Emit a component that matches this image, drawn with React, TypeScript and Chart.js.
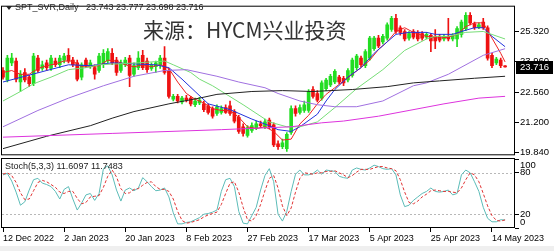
import React, { useEffect, useRef } from 'react';
import { Chart, registerables } from 'chart.js';

Chart.register(...registerables);

const FONT = "'Liberation Sans', Arial, sans-serif";
const CJK = "'Noto Sans CJK SC', sans-serif";

const symbolName = 'SPT_SVR,Daily';
const watermark = '来源：HYCM兴业投资';
const stochName = 'Stoch(5,3,3)';

const xTickBars = [0, 14, 28, 42, 56, 70, 84, 98, 112];
const xTickLabels = ['12 Dec 2022', '2 Jan 2023', '20 Jan 2023', '8 Feb 2023', '27 Feb 2023', '17 Mar 2023', '5 Apr 2023', '25 Apr 2023', '14 May 2023'];
const priceTicks = [19.84, 21.2, 22.56, 23.96, 25.32];
const stochTicks = [0, 20, 80, 100];
const stochLevels = [20, 80];

const opens = [
  23.55, 23.12, 23.90, 23.98, 23.03, 23.46, 23.25, 22.95, 24.11, 23.64,
  23.90, 23.64, 23.98, 23.81, 24.02, 24.24, 24.02, 23.90, 23.25, 24.02,
  23.72, 23.68, 23.55, 23.81, 23.98, 24.33, 24.02, 23.55, 23.81, 24.11,
  23.38, 23.68, 24.24, 23.98, 23.64, 23.72, 23.81, 24.11, 23.55, 22.25,
  22.38, 22.13, 22.30, 22.30, 22.00, 22.08, 22.04, 21.95, 21.82, 21.61,
  21.65, 21.87, 21.95, 21.69, 21.43, 21.00, 20.61, 20.83, 20.96, 21.13,
  21.00, 21.30, 21.09, 20.23, 20.10, 20.01, 20.74, 21.82, 21.65, 21.74,
  21.74, 22.69, 22.51, 22.30, 22.73, 22.90, 23.03, 23.25, 23.20, 23.12,
  23.33, 23.68, 24.11, 23.77, 24.11, 24.54, 25.02, 24.85, 25.02, 25.41,
  25.92, 25.49, 25.32, 25.02, 25.32, 25.28, 25.23, 25.06, 25.15, 25.10,
  25.10, 24.98, 25.10, 24.98, 24.98, 25.19, 25.45, 26.05, 25.67, 25.49,
  25.75, 25.49, 24.24, 23.90, 24.02, 23.743,
];
const highs = [
  23.68, 24.24, 24.33, 24.11, 23.55, 23.64, 23.33, 24.33, 24.24, 23.98,
  24.02, 24.24, 24.11, 24.24, 24.33, 24.54, 24.15, 24.02, 23.90, 24.11,
  24.02, 23.81, 24.33, 24.50, 24.54, 24.54, 24.15, 24.02, 24.15, 24.24,
  23.90, 24.41, 24.46, 24.11, 23.90, 23.98, 24.24, 24.63, 23.64, 22.47,
  22.47, 22.38, 22.43, 22.38, 22.30, 22.34, 22.17, 22.04, 21.91, 22.00,
  21.95, 22.00, 22.17, 21.78, 21.52, 21.13, 21.05, 21.18, 21.26, 21.26,
  21.35, 21.39, 21.18, 20.36, 20.44, 20.74, 21.95, 21.95, 22.00, 22.17,
  22.69, 22.82, 22.64, 23.08, 23.20, 23.38, 23.59, 23.33, 23.29, 23.64,
  24.11, 24.28, 24.20, 24.50, 25.10, 25.10, 25.15, 25.19, 25.71, 26.01,
  26.10, 25.58, 25.41, 25.32, 25.41, 25.36, 25.32, 25.28, 25.23, 25.41,
  25.19, 25.19, 25.92, 25.23, 25.54, 25.84, 26.18, 26.18, 25.75, 25.71,
  25.92, 25.58, 24.33, 24.15, 24.11, 23.777,
];
const lows = [
  23.16, 23.03, 23.77, 23.03, 22.60, 23.03, 22.82, 22.86, 23.46, 23.55,
  23.55, 23.55, 23.72, 23.68, 23.90, 23.90, 23.72, 23.08, 23.12, 23.68,
  23.64, 23.16, 23.46, 23.68, 23.90, 23.81, 23.33, 23.46, 23.72, 22.82,
  23.29, 23.59, 23.59, 23.46, 23.55, 23.46, 23.64, 23.38, 22.30, 22.17,
  22.08, 22.04, 22.13, 21.95, 21.91, 22.00, 21.69, 21.57, 21.39, 21.52,
  21.57, 21.61, 21.52, 21.18, 20.70, 20.57, 20.53, 20.74, 20.87, 20.96,
  20.92, 20.92, 20.10, 19.97, 20.01, 19.88, 20.66, 21.48, 21.57, 21.65,
  21.65, 22.30, 22.13, 22.21, 22.64, 22.82, 22.95, 22.95, 22.86, 23.03,
  23.25, 23.59, 23.72, 23.68, 24.02, 24.46, 24.59, 24.76, 24.93, 25.32,
  25.23, 25.15, 24.89, 24.93, 24.98, 24.89, 24.93, 24.98, 24.41, 24.54,
  24.85, 24.89, 24.89, 24.89, 24.63, 25.06, 25.36, 25.62, 25.41, 25.45,
  25.41, 24.02, 23.68, 23.81, 23.68, 23.698,
];
const closes = [
  23.25, 24.11, 24.11, 23.16, 23.38, 23.12, 22.95, 24.20, 23.55, 23.81,
  23.68, 24.11, 23.81, 24.11, 24.20, 23.98, 23.81, 23.16, 23.81, 23.77,
  23.90, 23.38, 24.20, 24.33, 24.41, 23.90, 23.46, 23.90, 24.02, 23.33,
  23.77, 24.11, 23.68, 23.59, 23.81, 23.90, 24.11, 23.46, 22.38, 22.38,
  22.17, 22.30, 22.21, 22.04, 22.17, 22.21, 21.78, 21.65, 21.48, 21.91,
  21.82, 21.65, 21.61, 21.26, 20.79, 20.70, 20.96, 21.05, 21.13, 21.05,
  21.22, 21.00, 20.18, 20.10, 20.27, 20.66, 21.82, 21.61, 21.87, 22.00,
  22.60, 22.38, 22.21, 22.99, 23.12, 23.29, 23.51, 23.03, 22.99, 23.55,
  24.02, 24.20, 23.81, 24.41, 25.02, 25.02, 24.67, 25.10, 25.62, 25.92,
  25.32, 25.28, 24.98, 25.23, 25.06, 24.98, 25.02, 25.19, 24.89, 24.89,
  24.93, 25.10, 24.98, 25.10, 25.45, 25.75, 26.05, 25.71, 25.49, 25.62,
  25.49, 24.11, 23.77, 24.07, 23.77, 23.716,
];

const maRedIdx = [0, 2, 4, 6, 8, 10, 12, 14, 16, 18, 20, 22, 24, 26, 28, 30, 32, 34, 36, 38, 40, 42, 44, 46, 48, 50, 52, 54, 56, 58, 60, 62, 64, 66, 68, 70, 72, 74, 76, 78, 80, 82, 84, 86, 88, 90, 92, 94, 96, 98, 100, 102, 104, 106, 108, 110, 112, 114, 115];
const maRed = [23.46, 23.55, 23.38, 23.38, 23.64, 23.77, 23.85, 23.98, 23.98, 23.72, 23.72, 23.77, 24.02, 23.98, 23.81, 23.72, 23.81, 23.72, 23.81, 23.64, 23.03, 22.51, 22.25, 22.08, 21.82, 21.74, 21.74, 21.43, 21.00, 20.92, 21.00, 20.79, 20.40, 20.44, 21.13, 21.52, 22.04, 22.47, 22.77, 23.08, 23.38, 23.68, 24.02, 24.50, 24.85, 25.32, 25.49, 25.28, 25.15, 25.06, 25.02, 25.06, 25.19, 25.54, 25.71, 25.71, 25.02, 24.33, 23.94];
const maBlueIdx = [0, 5, 10, 15, 20, 25, 30, 35, 38, 41, 44, 47, 52, 57, 61, 63, 66, 68, 72, 74, 76, 79, 82, 85, 88, 90, 93, 97, 99, 103, 105, 108, 110, 112, 115];
const maBlue = [23.03, 23.29, 23.55, 23.81, 23.77, 23.90, 23.85, 23.81, 23.68, 23.16, 22.60, 22.04, 21.78, 21.35, 21.05, 20.87, 20.79, 21.00, 21.57, 22.17, 22.69, 23.25, 23.68, 24.33, 24.85, 25.19, 25.28, 25.28, 25.19, 25.19, 25.32, 25.49, 25.49, 25.10, 24.63];
const maGreenIdx = [0, 4, 7, 11, 15, 19, 22, 31, 37, 39, 43, 45, 48, 55, 61, 65, 68, 72, 76, 81, 87, 92, 97, 99, 102, 106, 110, 115];
const maGreen = [22.17, 22.60, 22.95, 23.25, 23.59, 23.68, 23.81, 23.90, 23.98, 23.81, 23.46, 23.16, 22.86, 22.00, 21.22, 21.00, 21.00, 21.22, 21.87, 22.73, 23.59, 24.46, 24.98, 25.10, 25.10, 25.28, 25.32, 24.98];
const maPurpleIdx = [0, 8, 15, 23, 30, 37, 42, 49, 54, 60, 63, 68, 72, 76, 81, 87, 94, 97, 102, 110, 115];
const maPurple = [21.00, 21.74, 22.30, 22.86, 23.29, 23.55, 23.59, 23.29, 23.03, 22.77, 22.51, 22.17, 22.00, 21.91, 21.91, 22.17, 22.86, 22.99, 23.38, 24.24, 24.54];
const maBlackIdx = [0, 10, 20, 25, 30, 38, 45, 49, 57, 64, 71, 80, 88, 94, 100, 108, 115];
const maBlack = [20.01, 20.57, 21.05, 21.39, 21.69, 22.04, 22.30, 22.47, 22.60, 22.64, 22.60, 22.69, 22.82, 22.99, 23.08, 23.20, 23.29];
const maMagentaIdx = [0, 25, 50, 66, 73, 78, 86, 93, 101, 109, 115];
const maMagenta = [20.53, 20.70, 20.87, 21.00, 21.18, 21.26, 21.48, 21.74, 22.04, 22.30, 22.38];

const stochMain = [
  77, 79, 68, 52, 33, 38, 55, 70, 72, 65,
  63, 60, 53, 42, 56, 60, 42, 26, 36, 48,
  50, 40, 50, 86, 90, 77, 55, 39, 55, 58,
  54, 58, 73, 67, 60, 54, 55, 58, 45, 22,
  6, 6, 8, 9, 12, 15, 20, 21, 23, 26,
  53, 70, 72, 60, 24, 7, 6, 18, 30, 55,
  76, 86, 67, 20, 10, 24, 53, 78, 84, 77,
  77, 79, 84, 78, 84, 83, 82, 75, 73, 72,
  84, 87, 85, 84, 87, 91, 89, 86, 85, 86,
  77, 48, 31, 33, 40, 45, 50, 53, 58, 53,
  52, 53, 55, 48, 50, 77, 84, 80, 67, 53,
  30, 14, 9, 9, 12, 11.6097,
];
const stochSignal = [
  78, 80, 76, 66, 51, 41, 42, 54, 66, 69,
  67, 63, 59, 52, 50, 53, 53, 43, 35, 37,
  45, 46, 47, 59, 75, 84, 74, 57, 50, 51,
  56, 57, 62, 66, 67, 60, 56, 56, 53, 42,
  24, 11, 7, 8, 10, 12, 16, 19, 21, 23,
  34, 50, 65, 67, 52, 30, 12, 10, 18, 34,
  54, 72, 76, 58, 32, 18, 29, 52, 72, 80,
  79, 78, 80, 80, 82, 82, 83, 80, 77, 73,
  76, 81, 85, 85, 85, 87, 89, 89, 87, 86,
  83, 70, 52, 37, 35, 39, 45, 49, 54, 55,
  54, 53, 53, 52, 51, 58, 70, 80, 77, 67,
  50, 32, 18, 11, 10, 11.7483,
];

const X_MIN = -0.23;
const X_MAX = 117.27;
const Y_MIN = 19.708;
const Y_MAX = 26.443;

const BULL = '#22dd22';
const BEAR = '#ee1111';

function mkLine(idx: number[], vals: number[], color: string, dash: number[] = []) {
  return {
    type: 'line' as const,
    data: idx.map((x, k) => ({ x, y: vals[k] })),
    borderColor: color,
    borderWidth: 1,
    borderDash: dash,
    pointRadius: 0,
    tension: 0,
    fill: false,
    order: 0,
  };
}

function drawFrame(chart: any) {
  const { ctx, chartArea: a } = chart;
  ctx.save();
  ctx.strokeStyle = '#000';
  ctx.lineWidth = 1;
  ctx.strokeRect(a.left - 0.5, a.top - 0.5, a.right - a.left, a.bottom - a.top);
  ctx.restore();
}

const mainPlugin = {
  id: 'mainDeco',
  beforeDatasetsDraw(chart: any) {
    const { ctx } = chart;
    ctx.save();
    ctx.fillStyle = '#333';
    ctx.font = `21px ${CJK}`;
    ctx.textBaseline = 'middle';
    ctx.textAlign = 'left';
    ctx.fillText(watermark, 143, 30);
    ctx.restore();
  },
  afterDraw(chart: any) {
    const { ctx, chartArea: a } = chart;
    drawFrame(chart);
    const last = closes.length - 1;
    ctx.save();
    ctx.fillStyle = '#222';
    ctx.beginPath();
    ctx.moveTo(6, 6);
    ctx.lineTo(12, 6);
    ctx.lineTo(9, 10);
    ctx.closePath();
    ctx.fill();
    ctx.font = `9px ${FONT}`;
    ctx.textBaseline = 'middle';
    ctx.textAlign = 'left';
    ctx.fillText(symbolName, 15, 8);
    const vals = [opens[last], highs[last], lows[last], closes[last]].map((v) => v.toFixed(3)).join(' ');
    ctx.fillText(vals, 86, 8);
    const y = chart.scales.y.getPixelForValue(closes[last]);
    ctx.fillStyle = '#000';
    ctx.fillRect(a.right + 1, Math.round(y) - 6, 37, 13);
    ctx.fillStyle = '#fff';
    ctx.font = `9.5px ${FONT}`;
    ctx.fillText(closes[last].toFixed(3), a.right + 5, Math.round(y) + 0.5);
    ctx.restore();
  },
};

const stochPlugin = {
  id: 'stochDeco',
  beforeDraw(chart: any) {
    const { ctx, width, height } = chart;
    ctx.save();
    ctx.fillStyle = '#efefef';
    ctx.fillRect(0, height - 5, width, 5);
    ctx.restore();
  },
  beforeDatasetsDraw(chart: any) {
    const { ctx, chartArea: a } = chart;
    ctx.save();
    ctx.strokeStyle = '#b8b8b8';
    ctx.lineWidth = 1;
    ctx.setLineDash([2, 2]);
    stochLevels.forEach((v) => {
      const y = Math.round(chart.scales.y.getPixelForValue(v)) + 0.5;
      ctx.beginPath();
      ctx.moveTo(a.left, y);
      ctx.lineTo(a.right, y);
      ctx.stroke();
    });
    ctx.restore();
  },
  afterDraw(chart: any) {
    const { ctx, chartArea: a } = chart;
    drawFrame(chart);
    const last = stochMain.length - 1;
    ctx.save();
    ctx.fillStyle = '#222';
    ctx.font = `9px ${FONT}`;
    ctx.textBaseline = 'middle';
    ctx.textAlign = 'left';
    ctx.fillText(`${stochName} ${stochMain[last].toFixed(4)} ${stochSignal[last].toFixed(4)}`, 5, 9);
    ctx.font = `9.5px ${FONT}`;
    ctx.fillStyle = '#000';
    stochTicks.forEach((v) => {
      let y = chart.scales.y.getPixelForValue(v);
      y = Math.min(Math.max(y, a.top + 6), a.bottom - 6);
      ctx.fillText(String(v), a.right + 5, y);
    });
    ctx.restore();
  },
};

export default function App() {
  const mainRef = useRef<HTMLCanvasElement>(null);
  const stochRef = useRef<HTMLCanvasElement>(null);

  useEffect(() => {
    const idxAll = closes.map((_, i) => i);
    const colors = closes.map((c, i) => (c >= opens[i] ? BULL : BEAR));

    const main = new Chart(mainRef.current as HTMLCanvasElement, {
      type: 'bar',
      data: {
        datasets: [
          mkLine(maMagentaIdx, maMagenta, '#dd33dd'),
          mkLine(maBlackIdx, maBlack, '#222222'),
          mkLine(maPurpleIdx, maPurple, '#a070e0'),
          mkLine(maGreenIdx, maGreen, '#77dd77'),
          mkLine(maBlueIdx, maBlue, '#2233dd'),
          mkLine(maRedIdx, maRed, '#ee2222'),
          {
            type: 'bar',
            data: idxAll.map((i) => ({ x: i, y: [lows[i], highs[i]] })),
            backgroundColor: colors,
            borderWidth: 0,
            barThickness: 1,
            grouped: false,
            order: 2,
          } as any,
          {
            type: 'bar',
            data: idxAll.map((i) => ({ x: i, y: [opens[i], closes[i]] })),
            backgroundColor: colors,
            borderWidth: 0,
            barThickness: 3,
            minBarLength: 1,
            grouped: false,
            order: 1,
          } as any,
        ] as any,
      },
      options: {
        responsive: false,
        animation: false,
        events: [],
        layout: { padding: { left: 2, top: 1, right: 0, bottom: 5 } },
        plugins: { legend: { display: false }, tooltip: { enabled: false } },
        scales: {
          x: { type: 'linear', min: X_MIN, max: X_MAX, display: false, offset: false },
          y: {
            type: 'linear',
            position: 'right',
            min: Y_MIN,
            max: Y_MAX,
            afterFit: (s: any) => { s.width = 39; },
            afterBuildTicks: (s: any) => { s.ticks = priceTicks.map((v) => ({ value: v })); },
            ticks: {
              callback: (v: any) => Number(v).toFixed(3),
              font: { family: FONT, size: 9.5 },
              color: '#000',
              padding: 1,
            },
            grid: { drawOnChartArea: false, drawTicks: true, tickLength: 4, color: '#000' },
            border: { display: false },
          },
        },
      } as any,
      plugins: [mainPlugin],
    });

    const stoch = new Chart(stochRef.current as HTMLCanvasElement, {
      type: 'line',
      data: {
        datasets: [
          mkLine(idxAll, stochSignal, '#e03333', [3, 2]),
          mkLine(idxAll, stochMain, '#5cbcb8'),
        ] as any,
      },
      options: {
        responsive: false,
        animation: false,
        events: [],
        layout: { padding: { left: 2, top: 1, right: 0, bottom: 0 } },
        plugins: { legend: { display: false }, tooltip: { enabled: false } },
        scales: {
          x: {
            type: 'linear',
            min: X_MIN,
            max: X_MAX,
            offset: false,
            afterFit: (s: any) => { s.height = 23; },
            afterBuildTicks: (s: any) => { s.ticks = xTickBars.map((v) => ({ value: v })); },
            ticks: {
              callback: (v: any) => xTickLabels[xTickBars.indexOf(Number(v))] ?? '',
              align: 'start',
              maxRotation: 0,
              minRotation: 0,
              autoSkip: false,
              font: { family: FONT, size: 9 },
              color: '#000',
              padding: 1,
            },
            grid: { drawOnChartArea: false, drawTicks: true, tickLength: 4, color: '#000' },
            border: { display: false },
          },
          y: {
            type: 'linear',
            position: 'right',
            min: 0,
            max: 100,
            afterFit: (s: any) => { s.width = 39; },
            afterBuildTicks: (s: any) => { s.ticks = stochTicks.map((v) => ({ value: v })); },
            ticks: { display: false },
            grid: { drawOnChartArea: false, drawTicks: true, tickLength: 4, color: '#000' },
            border: { display: false },
          },
        },
      } as any,
      plugins: [stochPlugin],
    });

    return () => {
      main.destroy();
      stoch.destroy();
    };
  }, []);

  return (
    <div style={{ position: 'fixed', left: 0, top: 0, width: 554, height: 251, background: '#fff', overflow: 'hidden' }}>
      <canvas ref={mainRef} width={554} height={162} style={{ position: 'absolute', left: 0, top: 0, width: 554, height: 162 }} />
      <canvas ref={stochRef} width={554} height={93} style={{ position: 'absolute', left: 0, top: 158, width: 554, height: 93 }} />
    </div>
  );
}
